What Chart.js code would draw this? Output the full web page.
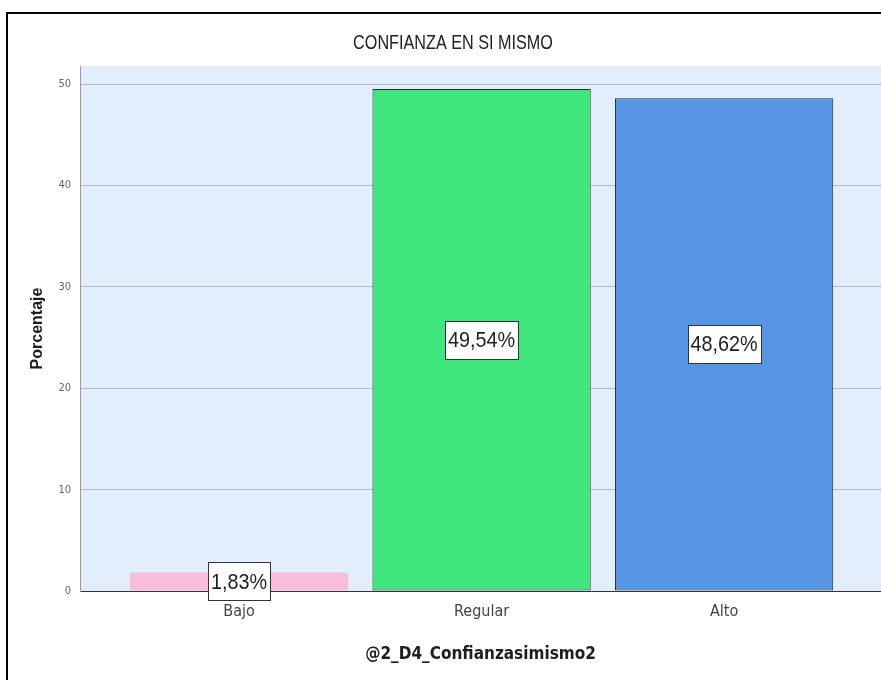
<!DOCTYPE html>
<html>
<head>
<meta charset="utf-8">
<script src="https://cdn.jsdelivr.net/npm/chart.js@4"></script>
<style>
  html, body { margin: 0; padding: 0; background: #fff; overflow: hidden; }
  #wrap { width: 881px; height: 680px; position: relative; }
</style>
</head>
<body>
<div id="wrap"><canvas id="c" width="881" height="680"></canvas></div>
<script>
const categories = ['Bajo', 'Regular', 'Alto'];
const percents = [1.83, 49.54, 48.62];
const pctLabels = ['1,83%', '49,54%', '48,62%'];
const barColors = ['#f8bddb', '#40e77c', '#5695e3'];
const barBorders = [0, 1, 1];
const yTicks = [0, 10, 20, 30, 40, 50];
const chartTitle = 'CONFIANZA EN SI MISMO';

const narrow = "'Liberation Sans Narrow', 'Arial Narrow', 'DejaVu Sans Condensed', sans-serif";
const arial = "'Liberation Sans', Arial, sans-serif";

// squeezed Arial-like text, a stand-in for Arial Narrow
function narrowText(ctx, txt, x, y, size, sx, weight) {
  ctx.save();
  ctx.font = (weight || 'normal') + ' ' + size + 'px ' + arial;
  ctx.textAlign = 'center';
  ctx.textBaseline = 'middle';
  ctx.translate(x, y);
  ctx.scale(sx, 1);
  ctx.fillText(txt, 0, 0);
  ctx.restore();
}

// light blue plot background, outer frame, title and boxed value labels
const decor = {
  id: 'decor',
  beforeDraw(chart) {
    const a = chart.chartArea, ctx = chart.ctx;
    ctx.save();
    ctx.fillStyle = '#e2eefb';
    ctx.fillRect(a.left, a.top, chart.width - a.left, a.bottom - a.top);
    ctx.restore();
  },
  afterDraw(chart) {
    const ctx = chart.ctx;
    ctx.save();
    ctx.strokeStyle = '#000';
    ctx.lineWidth = 2;
    ctx.beginPath();
    ctx.moveTo(7, chart.height);
    ctx.lineTo(7, 13);
    ctx.lineTo(chart.width, 13);
    ctx.stroke();

    ctx.fillStyle = '#222';
    narrowText(ctx, chartTitle, 453, 43, 20, 0.81);

    const meta = chart.getDatasetMeta(0);
    ctx.font = '22px ' + arial;
    meta.data.forEach((bar, i) => {
      const y = (bar.y + bar.base) / 2;
      const txt = pctLabels[i];
      const w = Math.round(ctx.measureText(txt).width * 0.9 + 6);
      const h = 38;
      const bx = Math.round(bar.x - w / 2), by = Math.round(y - h / 2);
      ctx.fillStyle = '#fff';
      ctx.fillRect(bx, by, w, h);
      ctx.strokeStyle = '#333';
      ctx.lineWidth = 1;
      ctx.strokeRect(bx + 0.5, by + 0.5, w, h);
      ctx.fillStyle = '#1e1e1e';
      narrowText(ctx, txt, bar.x, y + 1, 22, 0.9);
    });
    ctx.restore();
  }
};

new Chart(document.getElementById('c'), {
  type: 'bar',
  data: {
    datasets: [{
      data: categories.map((c, i) => ({ x: i + 1, y: percents[i] })),
      backgroundColor: barColors,
      borderColor: '#2a2a2a',
      borderWidth: barBorders,
      borderSkipped: false,
      barPercentage: 0.9,
      categoryPercentage: 1
    }]
  },
  plugins: [decor],
  options: {
    responsive: false,
    animation: false,
    layout: { padding: { left: 23, right: 0, top: 66, bottom: 0 } },
    plugins: {
      legend: { display: false },
      tooltip: { enabled: false },
      title: { display: false }
    },
    scales: {
      x: {
        type: 'linear',
        offset: false,
        min: 0.344,
        max: 3.647,
        afterBuildTicks: s => { s.ticks = categories.map((c, i) => ({ value: i + 1 })); },
        afterFit: s => { s.height = 89; },
        ticks: {
          callback: v => categories[v - 1],
          color: '#444',
          font: { family: narrow, size: 16 },
          padding: 11,
          autoSkip: false,
          maxRotation: 0
        },
        grid: { display: false, drawTicks: false },
        border: { color: '#333', width: 1 },
        title: {
          display: true,
          text: '@2_D4_Confianzasimismo2',
          color: '#1e1e1e',
          font: { family: narrow, size: 17, weight: 'bold' },
          padding: { top: 0, bottom: 15 }
        }
      },
      y: {
        min: 0,
        max: 51.8,
        afterBuildTicks: s => { s.ticks = yTicks.map(v => ({ value: v })); },
        afterFit: s => { s.width = 57; },
        ticks: {
          color: '#666',
          font: { family: narrow, size: 11 },
          padding: 9
        },
        grid: { color: '#b6b9bd', lineWidth: 1, drawTicks: false },
        border: { color: '#9a9a9a', width: 1 },
        title: {
          display: true,
          text: 'Porcentaje',
          color: '#1e1e1e',
          font: { family: arial, size: 16, weight: 'bold' },
          padding: { top: 5, bottom: 0 }
        }
      }
    }
  }
});
</script>
</body>
</html>
